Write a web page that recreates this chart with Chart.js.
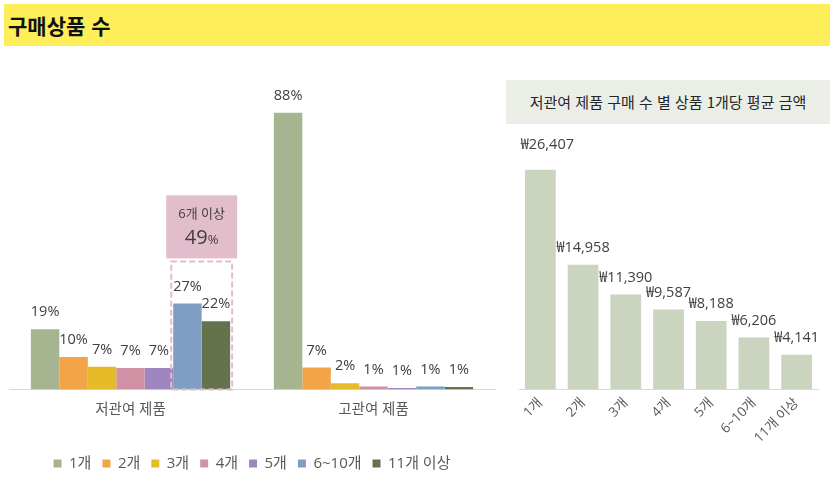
<!DOCTYPE html>
<html lang="ko">
<head>
    <meta charset="UTF-8">
    <title>구매상품 수</title>
    <script src="https://cdn.jsdelivr.net/npm/chart.js"></script>
    <style>
        body {
            margin: 0;
            width: 836px;
            height: 484px;
            background: #ffffff;
            font-family: "Noto Sans CJK KR", "Noto Sans", sans-serif;
            position: relative;
            overflow: hidden;
        }

        .title-bar {
            position: absolute;
            left: 4px;
            top: 4px;
            width: 826px;
            height: 42px;
            background-color: #fdee5a;
            font-size: 21px;
            font-weight: bold;
            line-height: 42px;
            padding-left: 4px;
            box-sizing: border-box;
            color: #111;
        }

        .sub-title {
            position: absolute;
            left: 506px;
            top: 80px;
            width: 324px;
            height: 44px;
            background-color: #ebeee6;
            font-size: 15px;
            line-height: 44px;
            text-align: center;
            color: #262626;
        }

        #leftWrap {
            position: absolute;
            left: 0;
            top: 50px;
            width: 500px;
            height: 434px;
        }

        #rightWrap {
            position: absolute;
            left: 505px;
            top: 128px;
            width: 325px;
            height: 350px;
        }
    </style>
</head>
<body>
    <div class="title-bar">구매상품 수</div>
    <div id="leftWrap"><canvas id="countChart"></canvas></div>
    <div class="sub-title">저관여 제품 구매 수 별 상품 1개당 평균 금액</div>
    <div id="rightWrap"><canvas id="priceChart"></canvas></div>

    <script>
        // 구매 수 구간 (범례)
        const buckets = ['1개', '2개', '3개', '4개', '5개', '6~10개', '11개 이상'];
        const groups = ['저관여 제품', '고관여 제품'];
        // 제품군별 구매 수 비중 (%)
        const lowShare = [19.2, 10.4, 7.3, 6.9, 6.9, 27.4, 21.7];
        const highShare = [88, 7, 2, 1, 0.5, 1, 0.8];
        const lowShareLabels = ['19%', '10%', '7%', '7%', '7%', '27%', '22%'];
        const highShareLabels = ['88%', '7%', '2%', '1%', '1%', '1%', '1%'];
        const sixPlusLabel = '49%';
        // 저관여 제품 구매 수 별 상품 1개당 평균 금액 (원)
        const avgPrice = [26407, 14958, 11390, 9587, 8188, 6206, 4141];

        const bucketColors = ['#a6b490', '#f3a446', '#e5bb2a', '#d191a4', '#9f86c0', '#7f9ec3', '#65734d'];
        const FONT = '"Open Sans", "Noto Sans CJK KR", sans-serif';

        const valueLabels = {
            id: 'valueLabels',
            afterDatasetsDraw(chart, args, opts) {
                const c = chart.ctx;
                c.save();
                c.font = '14.5px ' + FONT;
                c.fillStyle = '#404040';
                c.textAlign = 'center';
                c.textBaseline = 'middle';
                chart.data.datasets.forEach((ds, di) => {
                    const meta = chart.getDatasetMeta(di);
                    meta.data.forEach((bar, i) => {
                        const dx = i === 0 ? (opts.firstDx || 0) : 0;
                        const dy = i === 0 ? (opts.firstDy || 0) : 0;
                        c.fillText(opts.text(di, i), bar.x + dx, bar.y - 17 - dy);
                    });
                });
                c.restore();
            }
        };

        // 6개 이상 묶음 표시 (점선 + 분홍 상자)
        const sixPlusBox = {
            id: 'sixPlusBox',
            afterDatasetsDraw(chart) {
                const a = chart.getDatasetMeta(5).data[0];
                const b = chart.getDatasetMeta(6).data[0];
                const base = chart.scales.y.getPixelForValue(0);
                const left = a.x - a.width / 2 - 2;
                const right = b.x + b.width / 2 + 2;
                const top = a.y - 42;
                const c = chart.ctx;
                c.save();
                c.strokeStyle = '#e3bccb';
                c.lineWidth = 2;
                c.setLineDash([6, 3]);
                c.strokeRect(left, top, right - left, base - top);
                c.setLineDash([]);
                c.fillStyle = '#e2bdcb';
                c.fillRect(left - 5, top - 66, right - left + 10, 63);
                const cx = (left + right) / 2;
                c.fillStyle = '#404040';
                c.textAlign = 'center';
                c.textBaseline = 'middle';
                c.font = '13px ' + FONT;
                c.fillText('6개 이상', cx, top - 47);
                const num = sixPlusLabel.replace('%', '');
                c.font = '20px ' + FONT;
                const w1 = c.measureText(num).width;
                c.font = '13px ' + FONT;
                const w2 = c.measureText('%').width;
                const sx = cx - (w1 + w2) / 2;
                c.textAlign = 'left';
                c.font = '20px ' + FONT;
                c.fillText(num, sx, top - 23);
                c.font = '13px ' + FONT;
                c.fillText('%', sx + w1, top - 21);
                c.restore();
            }
        };

        new Chart(document.getElementById('countChart'), {
            type: 'bar',
            data: {
                labels: groups,
                datasets: buckets.map((b, i) => ({
                    label: b,
                    data: [lowShare[i], highShare[i]],
                    backgroundColor: bucketColors[i],
                    barPercentage: 1,
                    categoryPercentage: 0.82
                }))
            },
            options: {
                responsive: true,
                maintainAspectRatio: false,
                animation: false,
                layout: { padding: { top: 25, left: 9, right: 5, bottom: 3 } },
                scales: {
                    x: {
                        grid: { display: false, drawTicks: false },
                        border: { color: '#d9d9d9' },
                        ticks: {
                            color: '#595959',
                            padding: 12,
                            font: { family: FONT, size: 14.5 }
                        },
                        afterFit(scale) { scale.height += 14; }
                    },
                    y: { display: false, min: 0, max: 100 }
                },
                plugins: {
                    legend: {
                        position: 'bottom',
                        labels: {
                            boxWidth: 8,
                            boxHeight: 8,
                            padding: 11,
                            color: '#595959',
                            font: { family: FONT, size: 15 }
                        }
                    },
                    tooltip: { enabled: false },
                    valueLabels: {
                        text: (di, i) => (i === 0 ? lowShareLabels[di] : highShareLabels[di])
                    }
                }
            },
            plugins: [valueLabels, sixPlusBox]
        });

        new Chart(document.getElementById('priceChart'), {
            type: 'bar',
            data: {
                labels: buckets,
                datasets: [{
                    label: '평균 금액',
                    data: avgPrice,
                    backgroundColor: '#cad4be',
                    barPercentage: 0.72,
                    categoryPercentage: 1
                }]
            },
            options: {
                responsive: true,
                maintainAspectRatio: false,
                animation: false,
                layout: { padding: { top: 12, left: 14, right: 12, bottom: 0 } },
                scales: {
                    x: {
                        grid: { display: false, drawTicks: false },
                        border: { color: '#d9d9d9' },
                        ticks: {
                            color: '#595959',
                            minRotation: 45,
                            maxRotation: 45,
                            padding: 6,
                            font: { family: FONT, size: 13.5 }
                        },
                        afterFit(scale) { scale.height = 89; }
                    },
                    y: { display: false, min: 0, max: 30000 }
                },
                plugins: {
                    legend: { display: false },
                    tooltip: { enabled: false },
                    valueLabels: {
                        firstDx: 7,
                        firstDy: 8,
                        text: (di, i) => '₩' + avgPrice[i].toLocaleString('en-US')
                    }
                }
            },
            plugins: [valueLabels]
        });
    </script>
</body>
</html>
